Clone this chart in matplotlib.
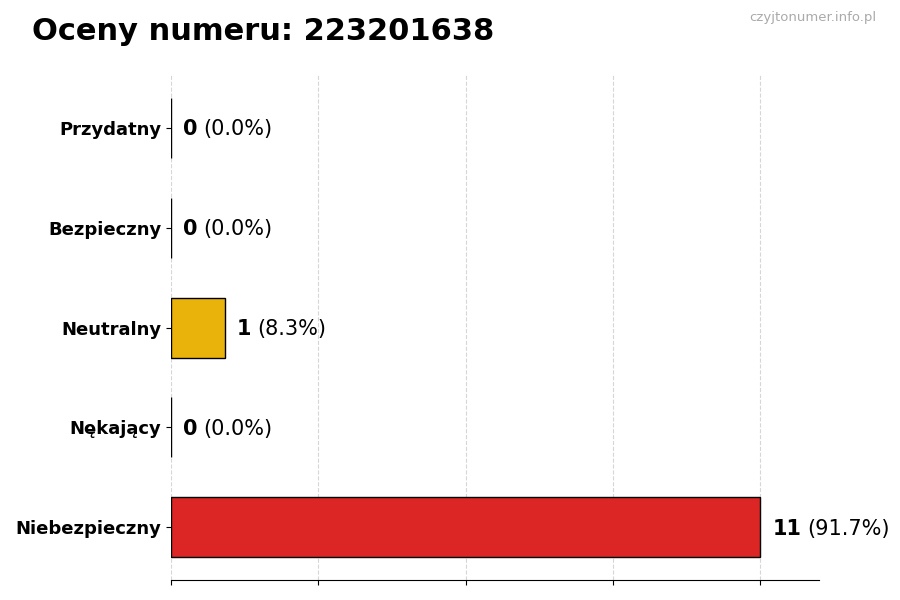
import matplotlib.pyplot as plt
import numpy as np

CATEGORIES = ['Przydatny', 'Bezpieczny', 'Neutralny', 'Nękający', 'Niebezpieczny']
COUNTS = [0, 0, 1, 0, 11]
PERCENTS = [0.0, 0.0, 8.3, 0.0, 91.7]
BAR_COLORS = ['#2ecc71', '#27ae60', '#EAB30B', '#e67e22', '#DC2626']
TITLE = 'Oceny numeru: 223201638'
WATERMARK = 'czyjtonumer.info.pl'

fig = plt.figure(figsize=(9, 6), dpi=100)
ax = fig.add_axes([0.19, 0.033, 0.72, 0.842])

y = np.arange(len(CATEGORIES))[::-1]  # first category on top
ax.barh(y, COUNTS, height=0.6, color=BAR_COLORS, edgecolor='black', linewidth=1, zorder=2)

ax.set_yticks(y)
ax.set_yticklabels(CATEGORIES, fontsize=13, fontweight='bold')
max_count = max(COUNTS)
ax.set_xlim(0, max_count * 1.1)
ax.set_xticks(np.linspace(0, max_count, 5))
ax.set_xticklabels([])
ax.grid(axis='x', linestyle='--', color='#cccccc', alpha=0.8, zorder=0)
ax.set_axisbelow(True)
for side in ['top', 'right', 'left']:
    ax.spines[side].set_visible(False)

# etykiety: liczba pogrubiona + procent
for yi, c, p in zip(y, COUNTS, PERCENTS):
    t = ax.annotate(str(c), xy=(c, yi), xytext=(9, -1), textcoords='offset points',
                    fontsize=15, fontweight='bold', va='center', ha='left')
    ax.annotate(f'({p:.1f}%)', xy=(1, 0), xycoords=t, xytext=(4, 0),
                textcoords='offset points', fontsize=15, va='bottom', ha='left')

fig.text(0.035, 0.948, TITLE, fontsize=22, fontweight='bold', va='center', ha='left')
fig.text(0.974, 0.97, WATERMARK, fontsize=9.5, color='#aaaaaa', va='center', ha='right')

fig.savefig('out.png', dpi=100)
